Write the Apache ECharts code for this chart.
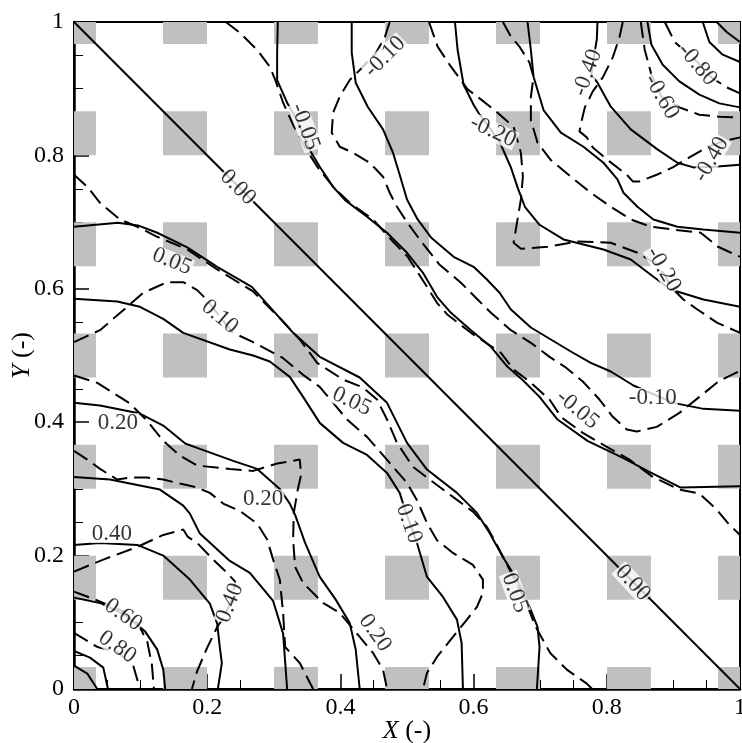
<!DOCTYPE html>
<html><head><meta charset="utf-8">
<script src="https://cdn.jsdelivr.net/npm/echarts/dist/echarts.min.js"></script>
<style>html,body{margin:0;padding:0;background:#fff}#c{width:742px;height:743px}</style>
</head><body><div id="c"></div>
<script>
// gray square pattern centres (both directions)
const squareCenters = [0, 0.1667, 0.3333, 0.5, 0.6667, 0.8333, 1];
const squareHalf = 0.033;

// ---- solid contours ----
const s000 = [[0,1],[1,0]];
const s005 = [[0,0.693],[0.066,0.699],[0.096,0.695],[0.125,0.684],[0.170,0.662],[0.215,0.633],[0.267,0.603],[0.294,0.573],[0.329,0.534],[0.369,0.498],[0.429,0.467],[0.470,0.429],[0.485,0.399],[0.500,0.369],[0.530,0.329],[0.575,0.294],[0.605,0.264],[0.624,0.234],[0.644,0.198],[0.665,0.164],[0.684,0.123],[0.696,0.093],[0.699,0.063],[0.695,0]];
const s010 = [[0,0.585],[0.065,0.581],[0.099,0.573],[0.134,0.555],[0.164,0.534],[0.234,0.509],[0.269,0.500],[0.294,0.491],[0.324,0.468],[0.344,0.438],[0.369,0.399],[0.404,0.369],[0.440,0.351],[0.470,0.324],[0.489,0.294],[0.497,0.269],[0.515,0.219],[0.530,0.168],[0.554,0.138],[0.575,0.104],[0.582,0.069],[0.584,0]];
const s020 = [[0,0.429],[0.039,0.425],[0.099,0.413],[0.134,0.395],[0.167,0.368],[0.189,0.360],[0.239,0.342],[0.275,0.330],[0.309,0.300],[0.324,0.278],[0.332,0.261],[0.347,0.219],[0.369,0.168],[0.393,0.134],[0.414,0.099],[0.423,0.059],[0.429,0]];
const s030 = [[0,0.318],[0.054,0.314],[0.129,0.299],[0.164,0.275],[0.174,0.263],[0.189,0.233],[0.234,0.192],[0.264,0.174],[0.299,0.132],[0.314,0.083],[0.320,0]];
const s040 = [[0,0.216],[0.039,0.219],[0.095,0.216],[0.134,0.200],[0.174,0.164],[0.204,0.128],[0.215,0.098],[0.219,0.062],[0.222,0.039],[0.216,0]];
const s060 = [[0,0.137],[0.039,0.129],[0.077,0.111],[0.107,0.086],[0.125,0.059],[0.134,0.029],[0.137,0]];
const s080 = [[0,0.057],[0.024,0.047],[0.044,0.032],[0.051,0]];
const s100 = [[0,0.035],[0.020,0.023],[0.035,0]];
const sm005 = [[0.306,1],[0.305,0.954],[0.305,0.913],[0.320,0.879],[0.335,0.853],[0.354,0.808],[0.369,0.783],[0.389,0.753],[0.407,0.733],[0.440,0.708],[0.470,0.684],[0.500,0.654],[0.524,0.624],[0.545,0.588],[0.566,0.564],[0.596,0.538],[0.626,0.513],[0.651,0.483],[0.674,0.463],[0.699,0.438],[0.726,0.404],[0.771,0.372],[0.825,0.346],[0.861,0.327],[0.911,0.302],[1,0.304]];
const sm010 = [[0.417,1],[0.417,0.954],[0.423,0.909],[0.441,0.873],[0.464,0.839],[0.479,0.804],[0.489,0.771],[0.500,0.734],[0.516,0.704],[0.536,0.677],[0.570,0.648],[0.600,0.633],[0.620,0.614],[0.639,0.594],[0.656,0.569],[0.686,0.542],[0.716,0.524],[0.746,0.506],[0.776,0.489],[0.806,0.476],[0.840,0.455],[0.900,0.429],[0.945,0.420],[1,0.417]];
const sm020 = [[0.572,1],[0.576,0.958],[0.585,0.906],[0.600,0.876],[0.609,0.861],[0.626,0.839],[0.641,0.816],[0.656,0.782],[0.666,0.752],[0.677,0.723],[0.699,0.696],[0.735,0.674],[0.795,0.659],[0.836,0.644],[0.870,0.618],[0.896,0.599],[0.945,0.584],[1,0.573]];
const sm030 = [[0.681,1],[0.686,0.958],[0.690,0.918],[0.705,0.868],[0.731,0.834],[0.765,0.813],[0.795,0.789],[0.816,0.764],[0.825,0.744],[0.846,0.723],[0.870,0.704],[0.906,0.693],[0.945,0.689],[1,0.684]];
const sm040 = [[0.786,1],[0.785,0.974],[0.780,0.944],[0.777,0.921],[0.786,0.909],[0.806,0.873],[0.836,0.839],[0.876,0.809],[0.906,0.789],[0.930,0.782],[0.961,0.783],[1,0.786]];
const sm060 = [[0.861,1],[0.867,0.966],[0.884,0.936],[0.909,0.911],[0.939,0.891],[0.969,0.878],[1,0.872]];
const sm080 = [[0.944,1],[0.954,0.970],[0.974,0.951],[1,0.940]];
const sm100 = [[0.965,1],[0.980,0.985],[1,0.970]];

// ---- dashed contours ----
const d005 = [[0,0.771],[0.020,0.753],[0.039,0.729],[0.069,0.704],[0.095,0.693],[0.125,0.678],[0.170,0.659],[0.215,0.629],[0.269,0.596],[0.314,0.551],[0.339,0.524],[0.365,0.489],[0.404,0.464],[0.434,0.452],[0.455,0.434],[0.470,0.404],[0.485,0.369],[0.509,0.333],[0.534,0.314],[0.569,0.288],[0.599,0.266],[0.620,0.243],[0.635,0.216],[0.654,0.179],[0.677,0.134],[0.692,0.096],[0.700,0.081],[0.715,0.054],[0.740,0.029],[0.770,0.008],[0.778,0]];
const d010 = [[0,0.520],[0.039,0.538],[0.080,0.573],[0.104,0.594],[0.140,0.610],[0.164,0.610],[0.185,0.598],[0.200,0.583],[0.219,0.558],[0.239,0.534],[0.269,0.520],[0.314,0.496],[0.344,0.471],[0.369,0.453],[0.410,0.404],[0.440,0.378],[0.474,0.339],[0.500,0.309],[0.515,0.283],[0.530,0.249],[0.545,0.223],[0.569,0.204],[0.599,0.186],[0.614,0.164],[0.614,0.144],[0.605,0.123],[0.590,0.104],[0.569,0.078],[0.545,0.048],[0.530,0.024],[0.524,0]];
const d020 = [[0,0.470],[0.035,0.459],[0.084,0.428],[0.110,0.402],[0.134,0.372],[0.159,0.350],[0.185,0.335],[0.234,0.330],[0.269,0.327],[0.305,0.338],[0.339,0.344],[0.341,0.321],[0.336,0.299],[0.330,0.264],[0.329,0.224],[0.332,0.183],[0.344,0.159],[0.374,0.129],[0.399,0.114],[0.429,0.078],[0.449,0.054],[0.464,0.029],[0.470,0]];
const d030 = [[0,0.357],[0.020,0.344],[0.039,0.330],[0.065,0.314],[0.084,0.317],[0.110,0.317],[0.134,0.314],[0.159,0.308],[0.185,0.302],[0.204,0.294],[0.224,0.278],[0.249,0.267],[0.275,0.248],[0.290,0.224],[0.299,0.194],[0.309,0.164],[0.314,0.114],[0.317,0.063],[0.339,0.039],[0.359,0]];
const d040 = [[0,0.176],[0.044,0.194],[0.095,0.213],[0.134,0.231],[0.164,0.239],[0.171,0.228],[0.185,0.219],[0.209,0.194],[0.230,0.174],[0.242,0.161],[0.237,0.134],[0.227,0.111],[0.215,0.093],[0.200,0.062],[0.185,0.027],[0.177,0]];
const d060 = [[0,0.146],[0.032,0.134],[0.075,0.116],[0.096,0.098],[0.110,0.071],[0.117,0.036],[0.120,0]];
const d080 = [[0,0.084],[0.035,0.063],[0.065,0.056],[0.089,0.035],[0.099,0]];
const dm005 = [[0.228,1],[0.249,0.984],[0.276,0.957],[0.294,0.933],[0.303,0.911],[0.314,0.879],[0.329,0.846],[0.347,0.812],[0.366,0.782],[0.389,0.753],[0.414,0.729],[0.449,0.704],[0.476,0.674],[0.501,0.648],[0.530,0.603],[0.545,0.579],[0.561,0.561],[0.596,0.534],[0.641,0.504],[0.660,0.479],[0.684,0.461],[0.714,0.434],[0.732,0.407],[0.764,0.384],[0.800,0.363],[0.834,0.344],[0.869,0.318],[0.909,0.299],[0.939,0.293],[0.965,0.269],[0.984,0.246],[1,0.231]];
const dm010 = [[0.474,1],[0.467,0.978],[0.452,0.951],[0.434,0.933],[0.414,0.913],[0.399,0.888],[0.389,0.864],[0.387,0.834],[0.399,0.813],[0.419,0.804],[0.444,0.789],[0.464,0.768],[0.474,0.744],[0.485,0.723],[0.500,0.700],[0.519,0.674],[0.549,0.636],[0.581,0.609],[0.606,0.584],[0.626,0.564],[0.656,0.538],[0.686,0.519],[0.714,0.498],[0.737,0.483],[0.764,0.461],[0.789,0.434],[0.809,0.408],[0.830,0.389],[0.845,0.386],[0.875,0.393],[0.909,0.414],[0.939,0.438],[0.969,0.462],[1,0.477]];
const dm020 = [[0.533,1],[0.546,0.963],[0.566,0.933],[0.591,0.899],[0.611,0.884],[0.636,0.864],[0.660,0.843],[0.671,0.804],[0.674,0.768],[0.671,0.734],[0.666,0.704],[0.660,0.669],[0.671,0.660],[0.711,0.663],[0.756,0.671],[0.806,0.669],[0.846,0.654],[0.872,0.639],[0.887,0.621],[0.896,0.603],[0.915,0.584],[0.936,0.569],[0.966,0.549],[1,0.534]];
const dm030 = [[0.644,1],[0.656,0.978],[0.669,0.963],[0.684,0.939],[0.690,0.918],[0.686,0.888],[0.686,0.853],[0.696,0.819],[0.716,0.793],[0.746,0.768],[0.776,0.744],[0.806,0.723],[0.836,0.704],[0.866,0.693],[0.898,0.689],[0.941,0.684],[0.967,0.663],[1,0.648]];
const dm040 = [[0.824,1],[0.819,0.977],[0.809,0.947],[0.794,0.917],[0.779,0.896],[0.767,0.872],[0.762,0.851],[0.759,0.836],[0.770,0.827],[0.779,0.812],[0.804,0.791],[0.830,0.771],[0.839,0.761],[0.849,0.761],[0.875,0.771],[0.899,0.782],[0.924,0.797],[0.950,0.812],[0.974,0.821],[1,0.827]];
const dm060 = [[0.851,1],[0.857,0.958],[0.867,0.921],[0.882,0.888],[0.909,0.872],[0.939,0.861],[0.969,0.858],[1,0.857]];
const dm080 = [[0.887,1],[0.902,0.970],[0.936,0.940],[0.957,0.917],[0.980,0.902],[1,0.893]];

// ---- contour labels ----
const labelPoints = [
 [0.246,0.752,'0.00'],[0.839,0.159,'0.00'],[0.147,0.641,'0.05'],[0.219,0.558,'0.10'],
 [0.417,0.431,'0.05'],[0.503,0.248,'0.10'],[0.662,0.144,'0.05'],[0.066,0.399,'0.20'],
 [0.284,0.285,'0.20'],[0.452,0.084,'0.20'],[0.057,0.233,'0.40'],[0.234,0.129,'0.40'],
 [0.074,0.111,'0.60'],[0.065,0.063,'0.80'],[0.347,0.843,'-0.05'],[0.467,0.948,'-0.10'],
 [0.629,0.836,'-0.20'],[0.771,0.924,'-0.40'],[0.882,0.888,'-0.60'],[0.936,0.936,'-0.80'],
 [0.957,0.794,'-0.40'],[0.885,0.629,'-0.20'],[0.869,0.437,'-0.10'],[0.756,0.419,'-0.05']
];
const labelAngles = [-45,-47,-22,-40,-25,-70,-70,0,0,-55,0,68,-35,-35,-70,45,-25,70,-60,-50,60,-60,0,-40];

const solidLines = [s000,s005,s010,s020,s030,s040,s060,s080,s100,sm005,sm010,sm020,sm030,sm040,sm060,sm080,sm100];
const dashedLines = [d005,d010,d020,d030,d040,d060,d080,dm005,dm010,dm020,dm030,dm040,dm060,dm080];

const FONT = '"Liberation Serif", "Times New Roman", Times, serif';
const chart = echarts.init(document.getElementById('c'), null, {renderer:'canvas'});

const squareData = [];
squareCenters.forEach(cx => squareCenters.forEach(cy => squareData.push([cx, cy])));

const series = [];
series.push({
  type:'custom', data:squareData, z:1, silent:true, clip:true,
  renderItem:(params, api) => {
    const cx = api.value(0), cy = api.value(1);
    const x0 = Math.max(0, cx - squareHalf), x1 = Math.min(1, cx + squareHalf);
    const y0 = Math.max(0, cy - squareHalf), y1 = Math.min(1, cy + squareHalf);
    const p0 = api.coord([x0, y1]), p1 = api.coord([x1, y0]);
    return {type:'rect', shape:{x:p0[0], y:p0[1], width:p1[0]-p0[0], height:p1[1]-p0[1]}, style:{fill:'#c0c0c0'}};
  }
});
solidLines.forEach(d => series.push({type:'line', data:d, showSymbol:false, symbol:'none', z:5, silent:true,
  lineStyle:{color:'#000', width:2, type:'solid'}}));
dashedLines.forEach(d => series.push({type:'line', data:d, showSymbol:false, symbol:'none', z:5, silent:true,
  lineStyle:{color:'#000', width:2, type:[16,7]}}));
series.push({
  type:'scatter', z:10, silent:true, symbolSize:0,
  data: labelPoints.map((p,i) => ({value:[p[0],p[1]], name:p[2], label:{rotate:labelAngles[i]}})),
  label:{show:true, position:'inside', formatter:p => p.name, color:'#000', fontFamily:FONT, fontSize:23,
    backgroundColor:'#fff', padding:[0,1], lineHeight:19}
});

chart.setOption({
  animation:false,
  grid:{left:74, right:2, top:22, bottom:54, show:true, borderColor:'#000', borderWidth:2, backgroundColor:'transparent',
    containLabel:false, outerBoundsMode:'none'},
  xAxis:{type:'value', min:0, max:1, interval:0.2,
    name:'{it|X} (-)', nameLocation:'middle', nameGap:29, nameMoveOverlap:false,
    nameTextStyle:{fontFamily:FONT, fontSize:26, color:'#000', rich:{it:{fontStyle:'italic', fontFamily:FONT, fontSize:26, color:'#000'}}},
    axisLine:{show:true, lineStyle:{color:'#000', width:2.5}},
    axisTick:{show:true, inside:true, length:15, lineStyle:{color:'#000', width:1.5}},
    minorTick:{show:true, splitNumber:4, length:9, lineStyle:{color:'#000', width:1}},
    axisLabel:{fontFamily:FONT, fontSize:24, color:'#000', margin:7},
    splitLine:{show:false}},
  yAxis:{type:'value', min:0, max:1, interval:0.2,
    name:'{it|Y} (-)', nameLocation:'middle', nameGap:39, nameRotate:90, nameMoveOverlap:false,
    nameTextStyle:{fontFamily:FONT, fontSize:26, color:'#000', rich:{it:{fontStyle:'italic', fontFamily:FONT, fontSize:26, color:'#000'}}},
    axisLine:{show:true, lineStyle:{color:'#000', width:2.5}},
    axisTick:{show:true, inside:true, length:15, lineStyle:{color:'#000', width:1.5}},
    minorTick:{show:true, splitNumber:4, length:9, lineStyle:{color:'#000', width:1}},
    axisLabel:{fontFamily:FONT, fontSize:24, color:'#000', margin:10},
    splitLine:{show:false}},
  series
});
</script></body></html>
